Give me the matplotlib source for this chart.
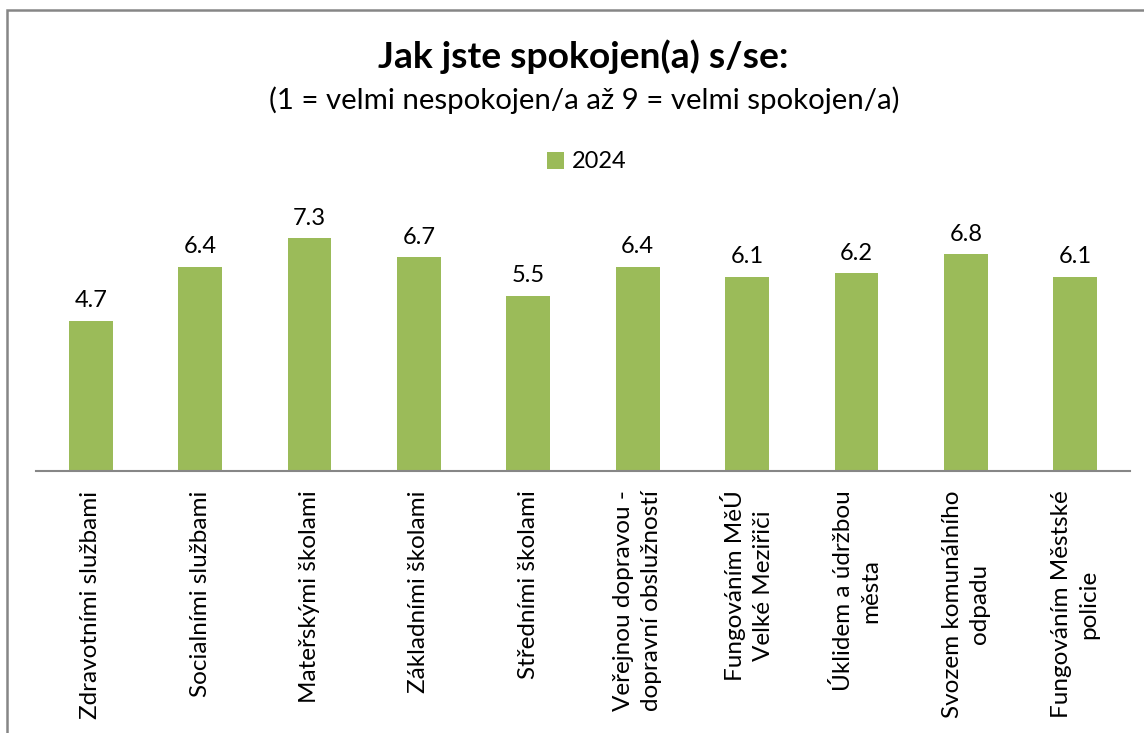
import matplotlib.pyplot as plt
from matplotlib.patches import Rectangle

categories = [
    'Zdravotními službami',
    'Socialními službami',
    'Mateřskými školami',
    'Základními školami',
    'Středními školami',
    'Veřejnou dopravou -\ndopravní obslužností',
    'Fungováním MěÚ\nVelké Meziřiči',
    'Úklidem a údržbou\nměsta',
    'Svozem komunálního\nodpadu',
    'Fungováním Městské\npolicie',
]
values_2024 = [4.7, 6.4, 7.3, 6.7, 5.5, 6.4, 6.1, 6.2, 6.8, 6.1]
series_name = '2024'

plt.rcParams['font.family'] = ['Lato', 'DejaVu Sans']
green = '#9BBB59'

fig = plt.figure(figsize=(11.44, 7.33), dpi=100)
W, H = 1144, 733
ax = fig.add_axes([36 / W, (H - 471) / H, (1130 - 36) / W, 255 / H])

x = list(range(len(categories)))
bars = ax.bar(x, values_2024, width=0.4, color=green, label=series_name, zorder=2)
for xi, v in zip(x, values_2024):
    ax.annotate(f'{v:.1f}', (xi, v), xytext=(0, 7), textcoords='offset points',
                ha='center', va='bottom', fontsize=17, color='#000000')

ax.set_xlim(-0.5, len(categories) - 0.5)
ax.set_ylim(0, 8)
ax.set_yticks([])
ax.set_xticks(x)
ax.set_xticklabels(categories, rotation=90, ha='center', va='top',
                   multialignment='center', fontsize=17.5, linespacing=1.4)
ax.tick_params(axis='x', length=0, pad=14)
for s in ['top', 'right', 'left']:
    ax.spines[s].set_visible(False)
ax.spines['bottom'].set_color('#868686')
ax.spines['bottom'].set_linewidth(1.5)

fig.text(583 / W, 1 - 57 / H, 'Jak jste spokojen(a) s/se:', ha='center', va='center',
         fontsize=26.8, fontweight='bold')
fig.text(584 / W, 1 - 100 / H, '(1 = velmi nespokojen/a až 9 = velmi spokojen/a)',
         ha='center', va='center', fontsize=21.2)

fig.legend(handles=[bars], labels=[series_name], loc='center',
           bbox_to_anchor=(587 / W, 1 - 162 / H), frameon=False, fontsize=17,
           handlelength=0.7, handleheight=0.7, handletextpad=0.35)

fig.patches.append(Rectangle((6.5 / W, -0.1), 1.2, (H - 10.5) / H + 0.1,
                             transform=fig.transFigure, fill=False,
                             edgecolor='#868686', linewidth=1.8))

fig.savefig('out.png', dpi=100)
